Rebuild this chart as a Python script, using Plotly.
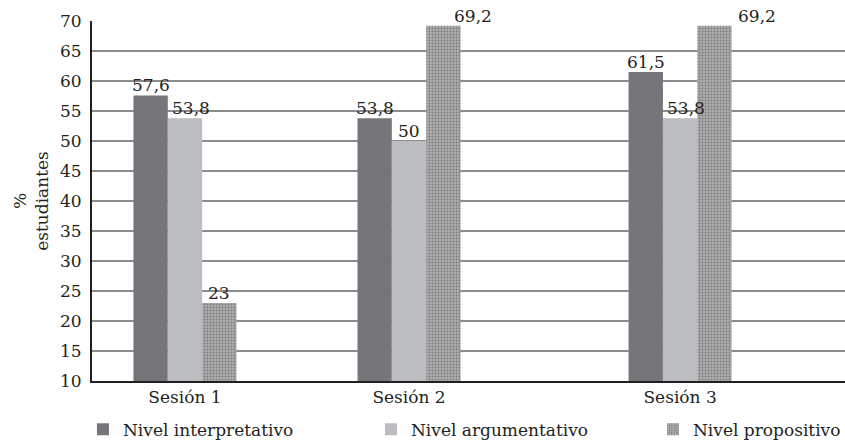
import plotly.graph_objects as go

# --- data -------------------------------------------------------------
sessions = ["Sesión 1", "Sesión 2", "Sesión 3"]
interpretativo = [57.6, 53.8, 61.5]
argumentativo = [53.8, 50.0, 53.8]
propositivo = [23.0, 69.2, 69.2]
series_names = ["Nivel interpretativo", "Nivel argumentativo", "Nivel propositivo"]
y_ticks = [10, 15, 20, 25, 30, 35, 40, 45, 50, 55, 60, 65, 70]

# --- layout constants -------------------------------------------------
session_x = [0.0, 1.0, 2.21]          # horizontal placement of each group
BARGAP = 0.54
bar_w = (1 - BARGAP) / 3
label_nudge = [[0, 6, 0], [0, 0, 30], [0, 6, 43]]  # px shift of value labels
FONT = "DejaVu Serif"
FS = 17
TXT = "#231f20"


def fmt(v):
    """Decimal comma, integers without decimals."""
    return str(int(v)) if float(v).is_integer() else f"{v:.1f}".replace(".", ",")


series = [interpretativo, argumentativo, propositivo]
fig = go.Figure()

fig.add_bar(name=series_names[0], x=session_x, y=interpretativo,
            marker=dict(color="#76767a", line=dict(width=0)), legend="legend")
fig.add_bar(name=series_names[1], x=session_x, y=argumentativo,
            marker=dict(color="#bcbdc1", line=dict(width=0)), legend="legend")
fig.add_bar(name=series_names[2], x=session_x, y=propositivo,
            marker=dict(color="#a0a0a0", line=dict(width=0),
                        pattern=dict(shape=".", fgcolor="#7a7a7a",
                                     bgcolor="#adadad", size=3,
                                     solidity=0.3, fillmode="replace")),
            legend="legend2")

# value labels written with a decimal comma
for si, vals in enumerate(series):
    for gi, v in enumerate(vals):
        fig.add_annotation(
            x=session_x[gi] + (si - 1) * bar_w, y=v, text=fmt(v),
            showarrow=False, yanchor="bottom", xanchor="center",
            xshift=label_nudge[gi][si], yshift=-2,
            font=dict(family=FONT, size=FS, color=TXT))

legend_common = dict(orientation="h", xanchor="left", y=-0.085, yanchor="top",
                     font=dict(family=FONT, size=FS, color=TXT),
                     bgcolor="rgba(0,0,0,0)", itemclick=False,
                     itemdoubleclick=False, traceorder="normal")

fig.update_layout(
    width=845, height=444,
    margin=dict(l=92, r=0, t=21, b=63, autoexpand=False),
    paper_bgcolor="white", plot_bgcolor="white",
    barmode="group", bargap=BARGAP, bargroupgap=0,
    font=dict(family=FONT, size=FS, color=TXT),
    showlegend=True,
    legend=dict(x=-0.012, entrywidth=243, entrywidthmode="pixels",
                **legend_common),
    legend2=dict(x=0.745, **legend_common),
)

fig.update_xaxes(
    range=[-0.415, 2.946], tickmode="array", tickvals=session_x,
    ticktext=sessions, showgrid=False, zeroline=False,
    showline=True, linecolor="#231f20", linewidth=2, ticks="",
    tickfont=dict(family=FONT, size=FS, color=TXT), fixedrange=True)

fig.update_yaxes(
    range=[10, 70], tickmode="array", tickvals=y_ticks,
    showgrid=True, gridcolor="#8c8c8c", gridwidth=2, zeroline=False,
    showline=True, linecolor="#231f20", linewidth=2, ticks="",
    ticklabelstandoff=5,
    tickfont=dict(family=FONT, size=FS, color=TXT),
    title=dict(text="%<br>estudiantes", standoff=7,
               font=dict(family=FONT, size=FS, color=TXT)),
    fixedrange=True)

fig.write_html("out.html")
